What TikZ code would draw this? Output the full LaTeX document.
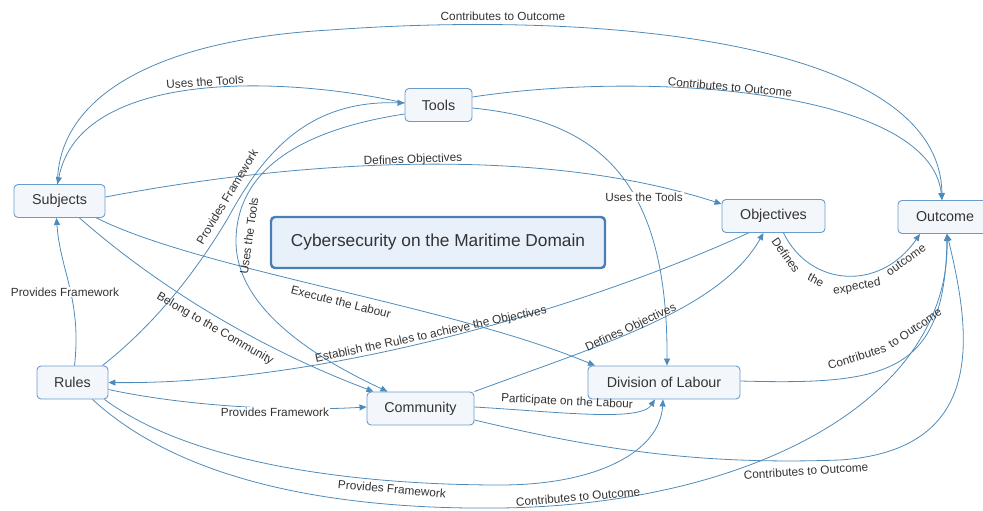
\documentclass[tikz,border=0pt]{standalone}
\usepackage{fontspec}
\setmainfont{Liberation Sans}
\usetikzlibrary{arrows.meta}

\definecolor{edgeblue}{HTML}{4F8BBA}
\definecolor{boxline}{HTML}{6A9CCB}
\definecolor{boxfill}{HTML}{F3F7FC}
\definecolor{titleline}{HTML}{4A7FB5}
\definecolor{titlefill}{HTML}{E8F0FA}
\definecolor{ink}{HTML}{333333}

\newcommand{\edgefont}{\fontsize{11.8}{13}\selectfont}
\newcommand{\boxfont}{\fontsize{14.3}{16}\selectfont}
\newcommand{\titlefont}{\fontsize{17.3}{20}\selectfont}

\tikzset{
  concept/.style={draw=boxline, fill=boxfill, line width=0.9pt, rounded corners=4pt,
    minimum height=33pt, inner sep=0pt, text=ink, font=\boxfont},
  titlebox/.style={draw=titleline, fill=titlefill, line width=2.4pt, rounded corners=4pt,
    minimum width=334pt, minimum height=51pt, inner sep=0pt, text=ink, font=\titlefont},
  link/.style={draw=edgeblue, line width=0.8pt, -{Triangle[length=7pt,width=6pt]}},
  lbl/.style={text=ink, font=\edgefont, inner sep=1pt},
  lblbg/.style={lbl, fill=white},
}

\begin{document}
\begin{tikzpicture}[x=1pt, y=-1pt]
\useasboundingbox (0,0) rectangle (983,511);

% concepts
\node[titlebox] (title) at (438,242.5) {Cybersecurity on the Maritime Domain};
\node[concept, minimum width=91pt]  (subj)  at (59.5,201)   {Subjects};
\node[concept, minimum width=67pt]  (tools) at (438.5,105)  {Tools};
\node[concept, minimum width=103pt] (obj)   at (773.5,216)  {Objectives};
\node[concept, minimum width=94pt]  (out)   at (945,217)    {Outcome};
\node[concept, minimum width=71pt]  (rules) at (72.5,382.5) {Rules};
\node[concept, minimum width=107pt] (comm)  at (420.5,408.5){Community};
\node[concept, minimum width=152pt] (div)   at (664,382.5)  {Division of Labour};

% relations
\draw[link] ([xshift=-2pt]subj.north) .. controls (57,100) and (150,40) .. (330,30)
            .. controls (600,10) and (940,40) .. ([xshift=-3pt]out.north);
\draw[link] ([yshift=2pt]tools.west) .. controls (280,75) and (80,70) .. ([xshift=-2pt]subj.north);
\draw[link] ([yshift=8pt]tools.east) .. controls (650,70) and (930,90) .. ([xshift=-3pt]out.north);
\draw[link] ([yshift=-3pt]tools.east) .. controls (590,120) and (668,170) .. ([xshift=3pt]div.north);
\draw[link] ([yshift=4pt]subj.east) .. controls (300,160) and (540,145) .. ([yshift=12pt]obj.west);
\draw[link] ([xshift=20pt]subj.south) .. controls (150,280) and (250,345) .. ([xshift=-47pt]comm.north);
\draw[link] ([xshift=37pt]subj.south) .. controls (200,270) and (450,305) .. ([xshift=-69pt]div.north);
\draw[link] ([xshift=2pt]rules.north) .. controls (82,300) and (60,270) .. ([xshift=-3pt]subj.south);
\draw[link] ([xshift=30pt]rules.north) .. controls (160,320) and (200,265) .. (228,218)
            .. controls (265,150) and (310,100) .. ([yshift=2pt]tools.west);
\draw[link] ([yshift=-9pt]tools.west) .. controls (300,130) and (237,170) .. (236,240)
            .. controls (235,310) and (320,360) .. ([xshift=-33pt]comm.north);
\draw[link] ([xshift=-25pt]obj.south) .. controls (580,310) and (320,385) .. (rules.east);
\draw[link] ([yshift=-7pt]rules.east) .. controls (180,405) and (280,412) .. ([yshift=1.5pt]comm.west);
\draw[link] ([xshift=32pt]rules.south) .. controls (200,470) and (380,485) .. (500,485)
            .. controls (600,485) and (660,450) .. ([xshift=-1pt]div.south);
\draw[link] ([xshift=20pt]rules.south) .. controls (180,480) and (330,510) .. (500,508)
            .. controls (750,505) and (950,400) .. ([xshift=2pt]out.south);
\draw[link] (comm.north east) .. controls (600,345) and (720,310) .. ([xshift=-10pt]obj.south);
\draw[link] ([yshift=1.5pt]comm.east) .. controls (560,412) and (640,422) .. ([xshift=-9pt]div.south);
\draw[link] ([yshift=-11.5pt]comm.east) .. controls (600,450) and (700,465) .. (840,460)
            .. controls (990,450) and (970,330) .. ([xshift=2pt]out.south);
\draw[link] ([yshift=1.5pt]div.east) .. controls (885,385) and (945,375) .. ([xshift=2pt]out.south);
\draw[link] ([xshift=10pt]obj.south) .. controls (810,287) and (880,292) .. ([xshift=-25pt]out.south);

% relation labels
\node[lbl] (l1) at (503,16) {Contributes to Outcome};
\node[lbl, rotate=4] (l2) at (205,82) {Uses the Tools};
\node[lbl, rotate=-5] (l3) at (730,87) {Contributes to Outcome};
\node[lblbg] (l4) at (644,197) {Uses the Tools};
\node[lbl, rotate=2] (l5) at (413,160) {Defines Objectives};
\node[lbl, rotate=-30] (l6) at (215,329) {Belong to the Community};
\node[lbl, rotate=-14] (l7) at (341,302) {Execute the Labour};
\node[lblbg] (l8) at (65,292) {Provides Framework};
\node[lbl, rotate=59] (l9) at (227,197) {Provides Framework};
\node[lbl, rotate=82] (l10) at (249,236) {Uses the Tools};
\node[lbl, rotate=12] (l11) at (431,335) {Establish the Rules to achieve the Objectives};
\node[lblbg] (l12) at (275,412) {Provides Framework};
\node[lbl, rotate=-5] (l13) at (392,489) {Provides Framework};
\node[lbl, rotate=5] (l14) at (578,497) {Contributes to Outcome};
\node[lbl, rotate=25] (l15) at (631,328) {Defines Objectives};
\node[lbl, rotate=-3] (l16) at (567,402) {Participate on the Labour};
\node[lbl, rotate=4] (l17) at (806,471) {Contributes to Outcome};
% label bending along the Division of Labour -> Outcome relation
\node[lbl, rotate=17] (l18a) at (857,357) {Contributes};
\node[lbl, rotate=34] (l18b) at (915,328) {to Outcome};
% label bending under the Objectives -> Outcome relation
\node[lbl, rotate=-55] (l19a) at (786,255) {Defines};
\node[lbl, rotate=-28] (l19b) at (816,280) {the};
\node[lbl, rotate=10] (l19c) at (857,287) {expected};
\node[lbl, rotate=35] (l19d) at (906,260) {outcome};
\end{tikzpicture}
\end{document}
